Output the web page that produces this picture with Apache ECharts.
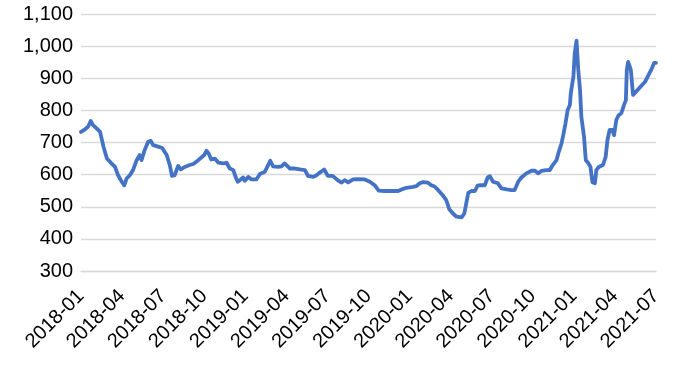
<!DOCTYPE html>
<html>
<head>
<meta charset="utf-8">
<script src="https://cdn.jsdelivr.net/npm/echarts@6/dist/echarts.min.js"></script>
<style>
html,body{margin:0;padding:0;background:#fff;}
#chart{width:700px;height:384px;}
</style>
</head>
<body>
<div id="chart"></div>
<script>
const tickLabels = ['2018-01','2018-04','2018-07','2018-10','2019-01','2019-04','2019-07','2019-10','2020-01','2020-04','2020-07','2020-10','2021-01','2021-04','2021-07'];

const dates = [
'2018-01-01','2018-01-10','2018-01-17','2018-01-23','2018-01-28','2018-02-05','2018-02-12','2018-02-19','2018-02-26','2018-03-08',
'2018-03-16','2018-03-23','2018-03-31','2018-04-06','2018-04-11','2018-04-18','2018-04-25','2018-05-03','2018-05-10','2018-05-14',
'2018-05-21','2018-05-29','2018-06-04','2018-06-09','2018-06-20','2018-06-29','2018-07-09','2018-07-16','2018-07-21','2018-07-27',
'2018-08-04','2018-08-10','2018-08-19','2018-08-30','2018-09-07','2018-09-18','2018-10-01','2018-10-06','2018-10-11','2018-10-17',
'2018-10-25','2018-11-02','2018-11-13','2018-11-20','2018-11-27','2018-12-05','2018-12-10','2018-12-15','2018-12-22','2018-12-27',
'2018-12-31','2019-01-08','2019-01-15','2019-01-26','2019-02-03','2019-02-13','2019-02-24','2019-03-02','2019-03-13','2019-03-21',
'2019-03-28','2019-04-09','2019-04-20','2019-05-01','2019-05-12','2019-05-19','2019-05-31','2019-06-07','2019-06-12','2019-06-24',
'2019-07-02','2019-07-13','2019-07-24','2019-08-02','2019-08-09','2019-08-17','2019-08-28','2019-09-08','2019-09-23','2019-10-04',
'2019-10-15','2019-10-24','2019-11-07','2019-11-21','2019-12-06','2019-12-14','2019-12-25','2020-01-09','2020-01-16','2020-01-24',
'2020-02-01','2020-02-11','2020-02-18','2020-02-25','2020-03-05','2020-03-14','2020-03-22','2020-03-29','2020-04-06','2020-04-14',
'2020-04-25','2020-05-01','2020-05-06','2020-05-10','2020-05-17','2020-05-25','2020-05-31','2020-06-07','2020-06-16','2020-06-22',
'2020-06-27','2020-07-04','2020-07-15','2020-07-23','2020-08-04','2020-08-15','2020-08-22','2020-08-30','2020-09-06','2020-09-17',
'2020-09-28','2020-10-06','2020-10-13','2020-10-21','2020-11-01','2020-11-08','2020-11-16','2020-11-23','2020-11-28','2020-12-04',
'2020-12-08','2020-12-13','2020-12-18','2020-12-23','2020-12-25','2020-12-31','2021-01-03','2021-01-07','2021-01-11','2021-01-15',
'2021-01-18','2021-01-24','2021-01-28','2021-02-02','2021-02-07','2021-02-11','2021-02-16','2021-02-19','2021-02-24','2021-03-05',
'2021-03-11','2021-03-15','2021-03-20','2021-03-26','2021-03-30','2021-04-04','2021-04-09','2021-04-15','2021-04-21','2021-04-25',
'2021-04-27','2021-04-30','2021-05-04','2021-05-06','2021-05-11','2021-05-15','2021-06-07','2021-06-22','2021-06-27','2021-07-01'
];

const values = [
733,741,749,767,754,744,733,687,650,635,
624,598,578,567,588,598,614,645,661,645,
676,702,705,692,687,683,661,630,596,598,
627,616,624,630,633,645,661,674,666,647,
650,637,635,637,619,614,593,578,585,591,
581,593,585,585,602,609,643,626,624,626,
635,619,619,616,614,596,593,598,604,616,
596,596,583,575,583,576,585,586,585,578,
567,550,549,549,549,554,559,562,564,573,
577,575,567,563,550,536,521,492,479,469,
467,479,515,543,549,549,566,567,567,591,
595,578,573,557,554,552,552,578,591,604,
612,612,604,612,614,614,632,645,671,697,
723,759,801,817,853,905,978,1017,926,863,
780,718,645,637,624,576,573,614,624,630,
655,707,739,739,723,770,785,791,817,832,
926,951,951,926,848,848,889,931,948,948
];

function monthIndex(s) {
  const p = s.split('-').map(Number);
  const dim = new Date(p[0], p[1], 0).getDate();
  return (p[0] - 2018) * 12 + (p[1] - 1) + (p[2] - 1) / dim;
}

const seriesData = dates.map((d, i) => [monthIndex(d), values[i]]);

const font = 'Liberation Sans, Arial, sans-serif';
const chart = echarts.init(document.getElementById('chart'), null, {renderer: 'canvas'});
chart.setOption({
  animation: false,
  backgroundColor: '#ffffff',
  grid: {left: 81, right: 44, top: 14, bottom: 113, containLabel: false},
  xAxis: {
    type: 'value',
    min: 0,
    max: 42,
    interval: 3,
    axisLine: {show: true, lineStyle: {color: '#d9d9d9', width: 1.3}},
    axisTick: {show: false},
    splitLine: {show: false},
    axisLabel: {
      rotate: 45,
      margin: 22,
      color: '#000',
      fontFamily: font,
      fontSize: 20,
      formatter: function (v) { return tickLabels[Math.round(v / 3)] || ''; }
    }
  },
  yAxis: {
    type: 'value',
    min: 300,
    max: 1100,
    interval: 100,
    axisLine: {show: false},
    axisTick: {show: false},
    splitLine: {show: true, lineStyle: {color: '#d9d9d9', width: 1.3}},
    axisLabel: {
      margin: 8,
      color: '#000',
      fontFamily: font,
      fontSize: 20,
      formatter: function (v) { return v.toLocaleString('en-US'); }
    }
  },
  series: [{
    type: 'line',
    data: seriesData,
    showSymbol: false,
    symbol: 'none',
    smooth: false,
    lineStyle: {color: '#4472C4', width: 3.8, join: 'round', cap: 'round'}
  }]
});
</script>
</body>
</html>
